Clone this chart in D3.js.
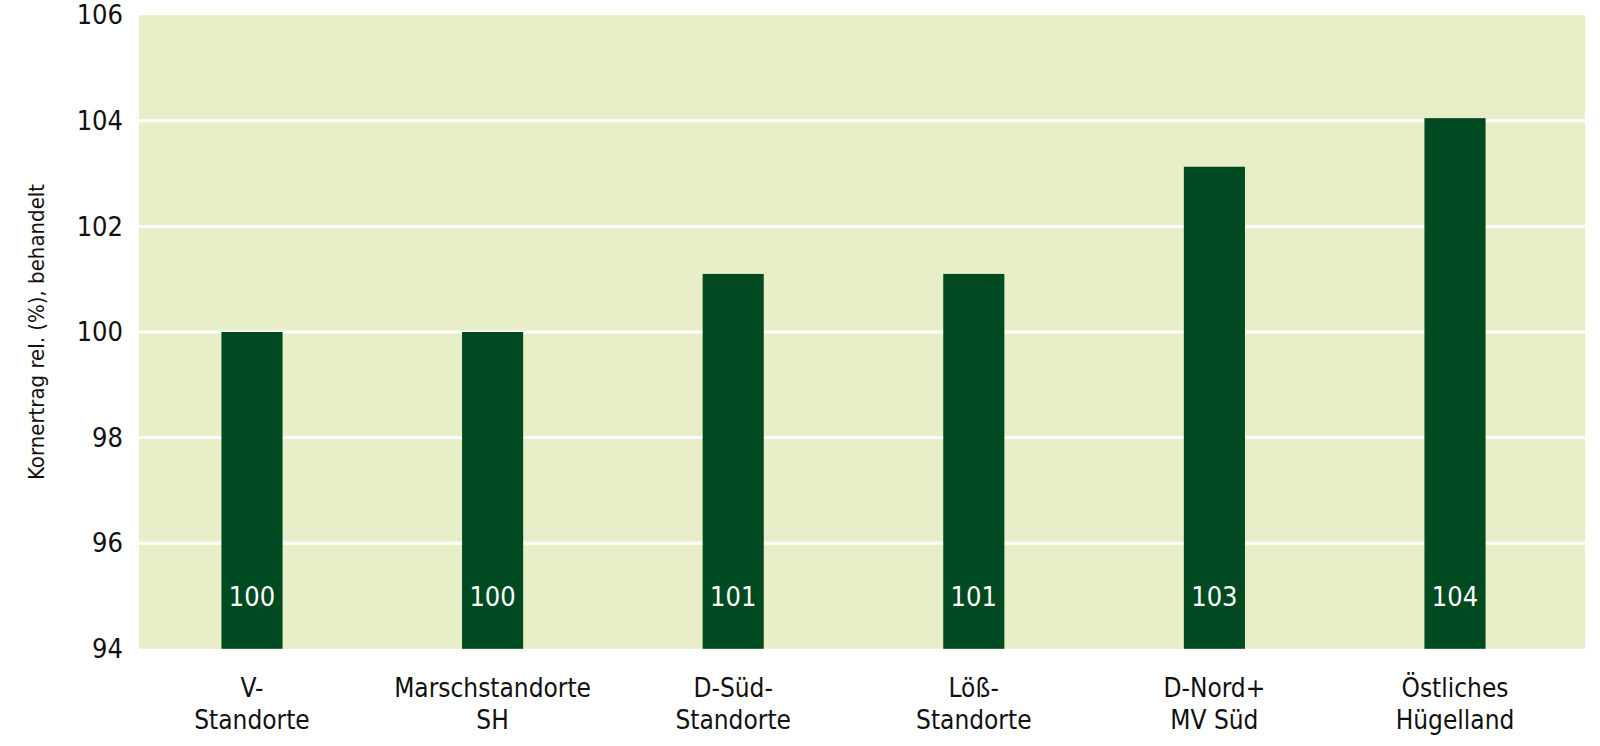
<!DOCTYPE html>
<html><head><meta charset="utf-8">
<script src="https://cdn.jsdelivr.net/npm/d3@7"></script>
<style>
html,body{margin:0;padding:0;background:#fff;}
svg{display:block;font-family:"Liberation Sans Narrow","DejaVu Sans Condensed","Roboto",sans-serif;}
</style></head>
<body>
<svg id="chart" width="1600" height="746"></svg>
<script>
const categories = [["V-","Standorte"],["Marschstandorte","SH"],["D-Süd-","Standorte"],["Löß-","Standorte"],["D-Nord+","MV Süd"],["Östliches","Hügelland"]];
const values = [100, 100, 101.1, 101.1, 103.13, 104.05];
const valueLabels = ["100","100","101","101","103","104"];
const yTicks = [94, 96, 98, 100, 102, 104, 106];
const yTitle = "Kornertrag rel. (%), behandelt";

const svg = d3.select("#chart");
const plot = {left:139, right:1585, top:15.2, bottom:648.8};

const y = d3.scaleLinear().domain([94,106]).range([plot.bottom, plot.top]);
const x = d3.scaleBand().domain(d3.range(categories.length))
  .range([131.7, 1575.3]).paddingInner(0.746).paddingOuter(0.373);

svg.append("rect").attr("x",plot.left).attr("y",plot.top)
  .attr("width",plot.right-plot.left).attr("height",plot.bottom-plot.top)
  .attr("fill","#e8efc8");

svg.append("g").selectAll("line").data(yTicks.filter(t=>t>94&&t<106)).join("line")
  .attr("x1",plot.left).attr("x2",plot.right)
  .attr("y1",d=>y(d)).attr("y2",d=>y(d))
  .attr("stroke","#fff").attr("stroke-width",3);

const yAxis = svg.append("g").attr("transform",`translate(${plot.left},0)`)
  .call(d3.axisLeft(y).tickValues(yTicks).tickSize(0).tickPadding(16));
yAxis.attr("font-family",null).attr("font-size",null);
yAxis.select(".domain").remove();
yAxis.selectAll("text").attr("font-size",27).attr("fill","#111");

svg.append("g").selectAll("rect").data(values).join("rect")
  .attr("x",(d,i)=>x(i)).attr("width",x.bandwidth())
  .attr("y",d=>y(d)).attr("height",d=>y(94)-y(d))
  .attr("fill","#004a22");

svg.append("g").selectAll("text").data(valueLabels).join("text")
  .attr("x",(d,i)=>x(i)+x.bandwidth()/2).attr("y",y(95))
  .attr("text-anchor","middle").attr("dominant-baseline","central")
  .attr("fill","#fff").attr("font-size",27).text(d=>d);

const cat = svg.append("g").selectAll("text").data(categories).join("text")
  .attr("x",(d,i)=>x(i)+x.bandwidth()/2).attr("y",697)
  .attr("text-anchor","middle").attr("font-size",26).attr("fill","#111");
cat.selectAll("tspan").data(d=>d).join("tspan")
  .attr("x",function(){return d3.select(this.parentNode).attr("x");})
  .attr("dy",(d,i)=>i===0?0:32).text(d=>d);

svg.append("text").attr("transform",`translate(44,${(plot.top+plot.bottom)/2}) rotate(-90)`)
  .attr("text-anchor","middle").attr("font-size",22).attr("fill","#111").text(yTitle);
</script>
</body></html>
